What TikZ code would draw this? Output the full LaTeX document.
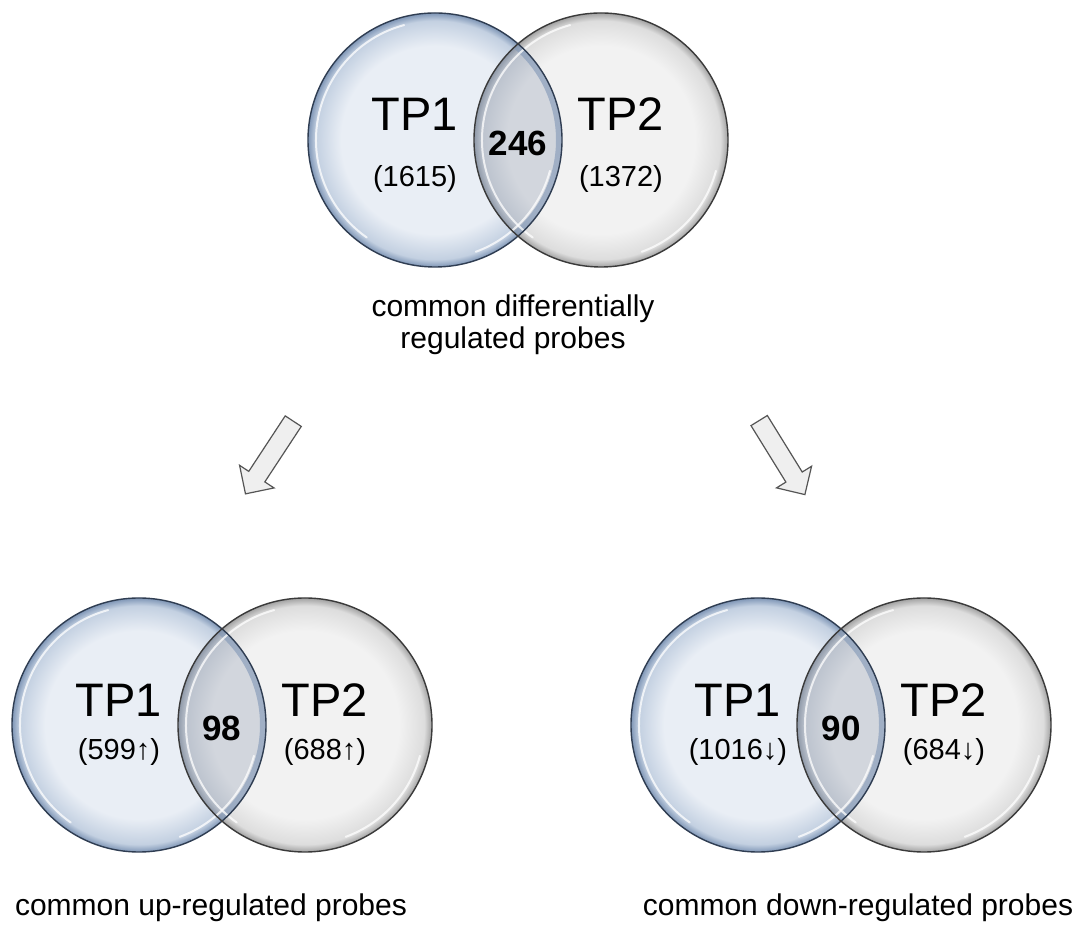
\documentclass[tikz,border=0pt]{standalone}
\usepackage{fontspec}
\setmainfont{Liberation Sans}
\usepackage{xcolor}
\usepackage{tikz}
\usetikzlibrary{shapes.arrows, calc}

\definecolor{tponein}{HTML}{E9EEF5}
\definecolor{tponemid}{HTML}{C3D0E1}
\definecolor{tponerim}{HTML}{7F96B6}
\definecolor{tponeedge}{HTML}{2F3D52}
\definecolor{tptwoin}{HTML}{F2F2F2}
\definecolor{tptwomid}{HTML}{DDDDDD}
\definecolor{tptworim}{HTML}{A2A2A2}
\definecolor{tptwoedge}{HTML}{3A3A3A}
\definecolor{tpbothin}{HTML}{D2D6DD}
\definecolor{tpbothmid}{HTML}{BCC3CE}
\definecolor{tpbothrim}{HTML}{8F99A8}
\definecolor{arrowfill}{HTML}{EFEFEF}
\definecolor{arrowedge}{HTML}{555555}

% shaded disks, rim darker than the middle
\pgfdeclareradialshading{tponeshade}{\pgfpoint{0bp}{0bp}}{color(0bp)=(tponein); color(18.5bp)=(tponein); color(23.5bp)=(tponemid); color(25bp)=(tponerim); color(50bp)=(tponerim)}
\pgfdeclareradialshading{tptwoshade}{\pgfpoint{0bp}{0bp}}{color(0bp)=(tptwoin); color(18.5bp)=(tptwoin); color(23.5bp)=(tptwomid); color(25bp)=(tptworim); color(50bp)=(tptworim)}
\pgfdeclareradialshading{tpbothshade}{\pgfpoint{0bp}{0bp}}{color(0bp)=(tpbothin); color(18.5bp)=(tpbothin); color(23.5bp)=(tpbothmid); color(25bp)=(tpbothrim); color(50bp)=(tpbothrim)}

% #1 name, #2 centre, #3 #4 counts, #5 overlap, #6 raise of TP line, #7 drop of counts
\newcommand{\vennpair}[7]{%
  \coordinate (#1) at (#2);
  \coordinate (#1l) at ($(#1)+(-83,0)$);
  \coordinate (#1r) at ($(#1)+(83,0)$);
  \shade[shading=tponeshade] (#1l) circle (127pt);
  \shade[shading=tptwoshade] (#1r) circle (127pt);
  \begin{scope}
    \clip (#1l) circle (127pt);
    \shade[shading=tpbothshade] (#1r) circle (127pt);
    \clip (#1r) circle (127pt);
    \draw[tponerim, line width=6pt, opacity=.6] (#1l) circle (124pt);
  \end{scope}
  % glossy highlights
  \foreach \c in {#1l,#1r}{
    \draw[gloss] ($(\c)+(105:119pt)$) arc (105:235:119pt);
    \draw[gloss] ($(\c)+(-70:119pt)$) arc (-70:-15:119pt);
  }
  \draw[tponeedge, line width=1.4pt] (#1l) circle (127pt);
  \draw[tptwoedge, line width=1.4pt] (#1r) circle (127pt);
  \node[tplabel] (#1one) at ($(#1l)+(-20,#6)$) {TP1};
  \node[tplabel] (#1two) at ($(#1r)+(20,#6)$) {TP2};
  \node[tpcount] (#1onen) at ($(#1l)+(-20,#7)$) {#3};
  \node[tpcount] (#1twon) at ($(#1r)+(20,#7)$) {#4};
  \node[tpcommon] (#1both) at ($(#1)+(0,-3)$) {#5};
}

\begin{document}
\begin{tikzpicture}[x=1pt, y=1pt,
    gloss/.style={white, line width=2pt, opacity=.75, line cap=round},
    tplabel/.style={font=\fontsize{47}{50}\selectfont},
    tpcount/.style={font=\fontsize{29}{32}\selectfont},
    tpcommon/.style={font=\fontsize{35}{37}\selectfont\bfseries},
    caption/.style={font=\fontsize{30}{32}\selectfont, align=center},
    splitarrow/.style={single arrow, draw=arrowedge, fill=arrowfill, line width=1.2pt,
      inner sep=9pt, single arrow head extend=11pt, minimum height=87pt}]
  \fill[white] (0,0) rectangle (1085,931);
  \useasboundingbox (0,0) rectangle (1085,931);

  \vennpair{top}{518,791}{(1615)}{(1372)}{246}{26}{-39}
  \vennpair{up}{222,206}{(599↑)}{(688↑)}{98}{25}{-27}
  \vennpair{down}{841,206}{(1016↓)}{(684↓)}{90}{25}{-27}

  \node[caption] (topcap) at (513,606) {common differentially\\regulated probes};
  \node[caption] (upcap) at (211,23) {common up-regulated probes};
  \node[caption] (downcap) at (858,23) {common down-regulated probes};

  \node[splitarrow, rotate=236.7] (uparrow) at (272,477.5) {};
  \node[splitarrow, rotate=-58.3] (downarrow) at (779.5,477.5) {};
\end{tikzpicture}
\end{document}
